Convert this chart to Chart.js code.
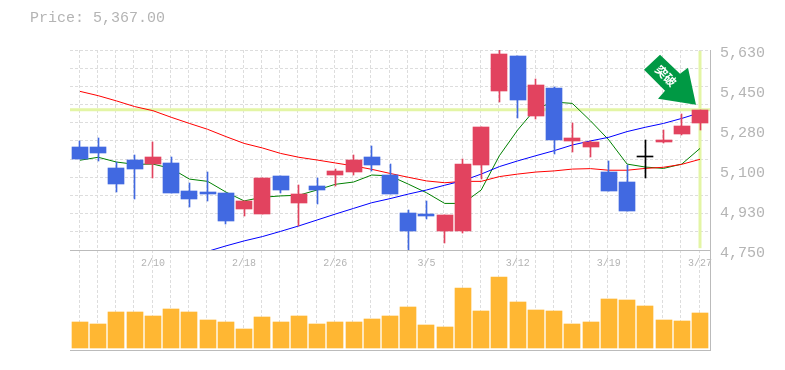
<!DOCTYPE html>
<html>
<head>
<meta charset="utf-8">
<script src="https://cdn.jsdelivr.net/npm/chart.js@4"></script>
<style>
  body { margin: 0; background: #fff; }
  #wrap { position: relative; width: 785px; height: 370px; }
  #price { position: absolute; left: 30px; top: 10px; font: 15px "Liberation Mono", monospace; color: #b4b4b4; }
</style>
</head>
<body>
<div id="wrap">
  <div id="price">Price: 5,367.00</div>
  <canvas id="stock-chart" width="785" height="370"></canvas>
</div>
<script>
const dates = ['2/4','2/5','2/6','2/7','2/10','2/12','2/13','2/14','2/17','2/18','2/19','2/20','2/21','2/25','2/26','2/27','2/28','3/3','3/4','3/5','3/6','3/7','3/10','3/11','3/12','3/13','3/14','3/17','3/18','3/19','3/21','3/24','3/25','3/26','3/27']
const opens  = [5203,5203,5111,5146,5128,5133,5010,5005,5001,4930,4908,5076,4957,5032,5080,5093,5159,5080,4913,4908,4834,4834,5124,5450,5604,5340,5463,5230,5203,5093,5049,5162,5225,5260,5309]
const closes = [5150,5177,5040,5106,5159,5001,4974,4996,4878,4966,5067,5014,4996,5014,5098,5146,5124,4996,4834,4900,4904,5128,5291,5612,5410,5476,5234,5243,5225,5010,4922,5162,5234,5296,5367]
const highs  = [5230,5243,5137,5168,5225,5159,5045,5093,5001,4966,5067,5076,5036,5067,5106,5168,5208,5128,4926,4966,4904,5150,5291,5630,5604,5502,5467,5309,5230,5142,5124,5234,5278,5348,5367]
const lows   = [5150,5142,5005,4974,5067,5001,4939,4966,4864,4900,4908,5001,4856,4952,5032,5080,5098,4996,4750,4886,4781,4825,5062,5401,5331,5326,5172,5181,5159,5010,4922,5067,5221,5256,5278]
const maShort = [5145,5158,5137,5127,5128,5109,5062,5052,5005,4966,4982,4988,4991,5014,5039,5049,5080,5076,5040,5002,4955,4955,5014,5165,5278,5373,5401,5395,5318,5234,5128,5115,5109,5128,5197]
const maMid   = [5448,5429,5406,5381,5363,5334,5307,5281,5249,5219,5199,5175,5158,5146,5133,5120,5105,5087,5070,5054,5046,5052,5052,5073,5084,5093,5098,5106,5108,5101,5101,5109,5114,5127,5149]
const maLong  = [null,null,null,null,null,null,null,4744,4768,4790,4809,4832,4856,4882,4908,4933,4958,4976,4996,5014,5035,5055,5084,5117,5142,5165,5187,5212,5230,5246,5271,5290,5307,5329,5354]
const volumes = [26000,24000,36000,36000,32000,39000,36000,28000,26000,19000,31000,26000,32000,24000,26000,26000,29000,32000,41000,23000,21000,60000,37000,71000,46000,38000,37000,24000,26000,49000,48000,42000,28000,27000,35000]
const priceLabelTicks = [5630,5454,5278,5102,4926,4750]
const priceGridTicks = [4750,4830,4910,4990,5070,5150,5230,5310,5390,5470,5550,5630]
const lastPrice = 5367

const upColor = '#e2435f'
const downColor = '#4169e1'
const dojiColor = '#000'
const bandColor = '#e3f5a5'
const gridColor = '#ddd'
const axisColor = '#bbb'
const labelColor = '#b4b4b4'
const xEdge = 0.548

const points = (values) => values.map((v, i) => ({x: i, y: v}))
const candleColors = opens.map((o, i) => closes[i] > o ? upColor : closes[i] < o ? downColor : dojiColor)

const bodies = opens.map((o, i) => {
    const lo = Math.min(o, closes[i])
    const hi = Math.max(o, closes[i])
    return {x: i, y: hi - lo < 4 ? [lo - 2, hi + 2] : [lo, hi]}
})
const wicks = lows.map((l, i) => ({x: i, y: [l, highs[i]]}))

const lineSet = (label, data, color, order, width) => ({
    type: 'line',
    label: label,
    data: data,
    borderColor: color,
    borderWidth: width,
    pointRadius: 0,
    tension: 0,
    order: order,
    yAxisID: 'y'
})

// keep bars on whole pixels so wicks and bodies stay sharp
const snapBars = {
    id: 'snapBars',
    beforeDatasetDraw(chart, args) {
        if (args.meta.type !== 'bar') return
        args.meta.data.forEach((bar) => {
            const thin = bar.width < 2
            bar.x = thin ? Math.floor(bar.x) + 0.5 : Math.round(bar.x)
            bar.y = Math.round(bar.y)
            bar.base = Math.round(bar.base)
            if (bar.y === bar.base) bar.base = bar.y + 1
        })
    }
}

// green marker that points at the last candle
const signalArrow = {
    id: 'signalArrow',
    afterDatasetsDraw(chart) {
        const ctx = chart.ctx
        const tipX = chart.scales.x.getPixelForValue(34) - 4
        const tipY = chart.scales.y.getPixelForValue(lastPrice) - 5
        const outline = [[0,0],[-8,-37],[-16,-31],[-36,-50],[-52,-35],[-31,-14],[-38,-6]]
        ctx.save()
        ctx.fillStyle = '#009944'
        ctx.beginPath()
        outline.forEach((p, i) => i ? ctx.lineTo(tipX + p[0], tipY + p[1]) : ctx.moveTo(tipX + p[0], tipY + p[1]))
        ctx.closePath()
        ctx.fill()
        ctx.translate(tipX - 30, tipY - 29)
        ctx.rotate(Math.PI / 4)
        ctx.fillStyle = '#fff'
        ctx.font = 'bold 12px "Noto Sans CJK JP"'
        ctx.textAlign = 'center'
        ctx.textBaseline = 'middle'
        ctx.fillText('突破', 0, 0)
        ctx.restore()
    }
}

new Chart(document.getElementById('stock-chart'), {
    data: {
        datasets: [
            lineSet('Price line', [{x: -xEdge, y: lastPrice}, {x: 34 + xEdge, y: lastPrice}], bandColor, 10, 3),
            lineSet('Last day', [{x: 34, y: 4758}, {x: 34, y: 5626}], bandColor, 10, 3),
            lineSet('MA long', points(maLong), '#0000ff', 5, 1),
            lineSet('MA mid', points(maMid), '#ff0000', 5, 1),
            lineSet('MA short', points(maShort), '#008000', 5, 1),
            {
                type: 'bar',
                label: 'Range',
                data: wicks,
                backgroundColor: candleColors,
                barThickness: 1,
                grouped: false,
                order: 2,
                yAxisID: 'y'
            },
            {
                type: 'bar',
                label: 'Body',
                data: bodies,
                backgroundColor: candleColors,
                barThickness: 16,
                grouped: false,
                order: 1,
                yAxisID: 'y'
            },
            {
                type: 'bar',
                label: 'Volume',
                data: points(volumes),
                backgroundColor: '#ffb733',
                barThickness: 16,
                grouped: false,
                order: 1,
                yAxisID: 'v'
            }
        ]
    },
    options: {
        responsive: false,
        animation: false,
        events: [],
        layout: {
            padding: {left: 70, top: 50, right: 0, bottom: 20}
        },
        plugins: {
            legend: {display: false},
            tooltip: {enabled: false}
        },
        scales: {
            x: {
                type: 'linear',
                offset: false,
                position: {y: 4750},
                min: -xEdge,
                max: 34 + xEdge,
                afterBuildTicks: function(scale) {
                    const ticks = dates.map((d, i) => ({value: i - xEdge}))
                    ticks.push({value: 34 + 1 - xEdge})
                    dates.forEach((d, i) => {
                        if (i % 5 === 4) ticks.push({value: i})
                    })
                    scale.ticks = ticks
                },
                grid: {
                    drawTicks: false,
                    color: function(ctx) {
                        return ctx.tick && Number.isInteger(ctx.tick.value) ? 'transparent' : gridColor
                    }
                },
                border: {color: axisColor, dash: [3, 2]},
                ticks: {
                    autoSkip: false,
                    maxRotation: 0,
                    padding: 7,
                    color: labelColor,
                    font: {family: '"Liberation Mono"', size: 10},
                    callback: function(value) {
                        return Number.isInteger(value) ? dates[value] : ''
                    }
                }
            },
            y: {
                position: 'right',
                stack: 'panels',
                stackWeight: 2,
                min: 4750,
                max: 5630,
                afterBuildTicks: function(scale) {
                    const all = priceGridTicks.concat(priceLabelTicks.filter(v => !priceGridTicks.includes(v)))
                    scale.ticks = all.map(v => ({value: v}))
                },
                afterFit: function(scale) {
                    scale.width = 75
                },
                grid: {
                    drawTicks: false,
                    color: function(ctx) {
                        return !ctx.tick || priceGridTicks.includes(ctx.tick.value) ? gridColor : 'transparent'
                    }
                },
                border: {color: axisColor, dash: [3, 2]},
                ticks: {
                    autoSkip: false,
                    padding: 10,
                    labelOffset: 3.5,
                    color: labelColor,
                    font: {family: '"Liberation Mono"', size: 15},
                    callback: function(value) {
                        if (!priceLabelTicks.includes(value)) return ''
                        return (Math.round(value / 10) * 10).toLocaleString('en-US')
                    }
                }
            },
            v: {
                position: 'right',
                stack: 'panels',
                stackWeight: 1,
                min: -2000,
                max: 98000,
                afterBuildTicks: function(scale) {
                    scale.ticks = [{value: -2000}]
                },
                afterFit: function(scale) {
                    scale.width = 75
                },
                grid: {drawTicks: false, color: axisColor},
                border: {color: axisColor},
                ticks: {display: false}
            }
        }
    },
    plugins: [snapBars, signalArrow]
})
</script>
</body>
</html>
